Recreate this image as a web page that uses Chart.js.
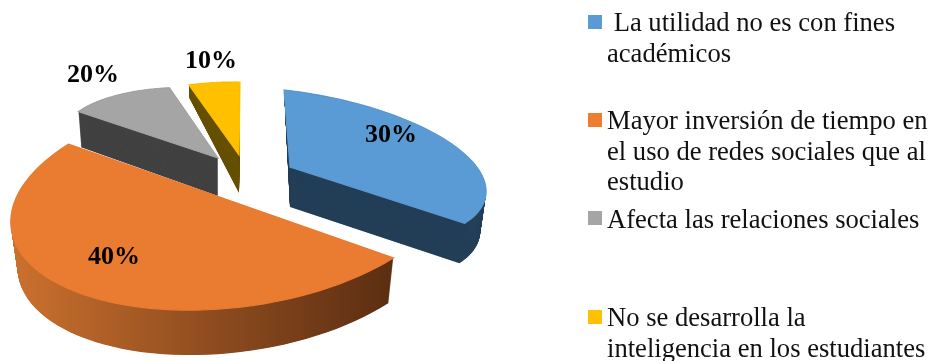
<!DOCTYPE html>
<html>
<head>
<meta charset="utf-8">
<script src="https://cdn.jsdelivr.net/npm/chart.js@4"></script>
<style>
  html, body { margin: 0; padding: 0; background: #fff; }
  #wrap { position: relative; width: 932px; height: 361px; overflow: hidden; }
  #pie { position: absolute; left: 0; top: 0; }
  .swatch { position: absolute; left: 588px; width: 14px; height: 14px; }
  .entry { position: absolute; left: 607px; font: 26.6px/30.6px "Liberation Serif", serif; color: #111; white-space: pre; }
</style>
</head>
<body>
<div id="wrap"><canvas id="pie" width="932" height="361"></canvas></div>
<script>
const categories = [
    ' La utilidad no es con fines\nacadémicos',
    'Mayor inversión de tiempo en\nel uso de redes sociales que al\nestudio',
    'Afecta las relaciones sociales',
    'No se desarrolla la\ninteligencia en los estudiantes'
];
// printed labels do not agree with the drawn slice sizes in the picture, so both are kept
const sliceShares = [33, 50, 12, 5];
const percentLabels = ['30%', '40%', '20%', '10%'];
const topColors = ['#5B9BD5', '#EA7C31', '#A5A5A5', '#FFC000'];
const legendColors = ['#5B9BD5', '#ED7D31', '#A5A5A5', '#FFC000'];
const wallColors = ['#243F57', null, '#424242', '#665000'];

// per slice look of the tilted, exploded pie: centre, disc matrix, wall depth, wall taper
const views = [
    { cx: 290, cy: 167, m: [196, 22, 6, 77], depth: 40, farK: 0.5, shrink: 0.03, text: [101, -32] },
    { cx: 231, cy: 201, m: [214, 5, -52, 109], depth: 45, farK: 0, shrink: 0.03, text: [-117, 56] },
    { cx: 218, cy: 158, m: [160, 15, -1, 69], depth: 38, farK: 0.05, shrink: 0.02, text: [-125, -83] },
    { cx: 239, cy: 155, m: [165, 2, -1, 73], depth: 38, farK: 0.37, shrink: 0, text: [-28, -94] }
];
const drawOrder = [2, 3, 0, 1];
const legendTops = [7, 105, 204, 302];
const swatchTops = [15, 113, 211, 310];

const wrap = document.getElementById('wrap');
categories.forEach((name, i) => {
    const box = document.createElement('div');
    box.className = 'swatch';
    box.style.top = swatchTops[i] + 'px';
    box.style.background = legendColors[i];
    wrap.appendChild(box);
    const entry = document.createElement('div');
    entry.className = 'entry';
    entry.style.top = legendTops[i] + 'px';
    entry.textContent = name;
    wrap.appendChild(entry);
});

function outline(el, v) {
    const pts = [[v.cx, v.cy]];
    const steps = 60;
    for (let s = 0; s <= steps; s++) {
        const a = el.startAngle + (el.endAngle - el.startAngle) * s / steps;
        pts.push([
            v.cx + v.m[0] * Math.cos(a) + v.m[2] * Math.sin(a),
            v.cy + v.m[1] * Math.cos(a) + v.m[3] * Math.sin(a)
        ]);
    }
    return pts;
}

function tracePoly(ctx, pts) {
    ctx.beginPath();
    pts.forEach((p, i) => i ? ctx.lineTo(p[0], p[1]) : ctx.moveTo(p[0], p[1]));
    ctx.closePath();
}

function drawWall(ctx, el, v, fill, edge) {
    const top = outline(el, v);
    const low = top.map(p => [
        p[0] - v.shrink * (p[0] - v.cx),
        p[1] + v.depth + v.farK * Math.min(0, p[1] - v.cy)
    ]);
    ctx.fillStyle = fill;
    // sweep the slice from its bottom face up to the top face, no seams this way
    const steps = v.depth * 2;
    for (let s = 0; s <= steps; s++) {
        const t = s / steps;
        tracePoly(ctx, top.map((p, i) => [
            low[i][0] + (p[0] - low[i][0]) * t,
            low[i][1] + (p[1] - low[i][1]) * t
        ]));
        ctx.fill();
    }
    // hide the dark fringe the sweep leaves round the top face
    tracePoly(ctx, top);
    ctx.strokeStyle = edge;
    ctx.lineWidth = 1.2;
    ctx.stroke();
}

const tiltedPie = {
    id: 'tiltedPie',
    beforeDatasetDraw(chart) {
        const ctx = chart.ctx;
        const arcs = chart.getDatasetMeta(0).data;
        drawOrder.forEach(i => {
            const el = arcs[i];
            const v = views[i];
            let fill = wallColors[i];
            if (!fill) {
                fill = ctx.createLinearGradient(11, 0, 391, 0);
                fill.addColorStop(0, '#CC712E');
                fill.addColorStop(0.5, '#914E20');
                fill.addColorStop(1, '#5C2E12');
            }
            drawWall(ctx, el, v, fill, topColors[i]);
            // top face is the chart's own arc, squashed onto the slice's ellipse
            const r = el.outerRadius;
            ctx.save();
            ctx.translate(v.cx, v.cy);
            ctx.transform(v.m[0] / r, v.m[1] / r, v.m[2] / r, v.m[3] / r, 0, 0);
            ctx.translate(-el.x, -el.y);
            el.draw(ctx);
            ctx.restore();
        });
        return false;
    },
    afterDraw(chart) {
        const ctx = chart.ctx;
        ctx.save();
        ctx.font = 'bold 26px "Liberation Serif", serif';
        ctx.fillStyle = '#000';
        ctx.textAlign = 'center';
        ctx.textBaseline = 'middle';
        percentLabels.forEach((txt, i) => {
            const v = views[i];
            ctx.fillText(txt, v.cx + v.text[0], v.cy + v.text[1]);
        });
        ctx.restore();
    }
};

new Chart(document.getElementById('pie').getContext('2d'), {
    type: 'pie',
    data: {
        labels: categories,
        datasets: [{
            data: sliceShares,
            backgroundColor: topColors,
            borderWidth: 0
        }]
    },
    options: {
        responsive: false,
        animation: false,
        plugins: {
            legend: { display: false },
            tooltip: { enabled: false }
        }
    },
    plugins: [tiltedPie]
});
</script>
</body>
</html>
